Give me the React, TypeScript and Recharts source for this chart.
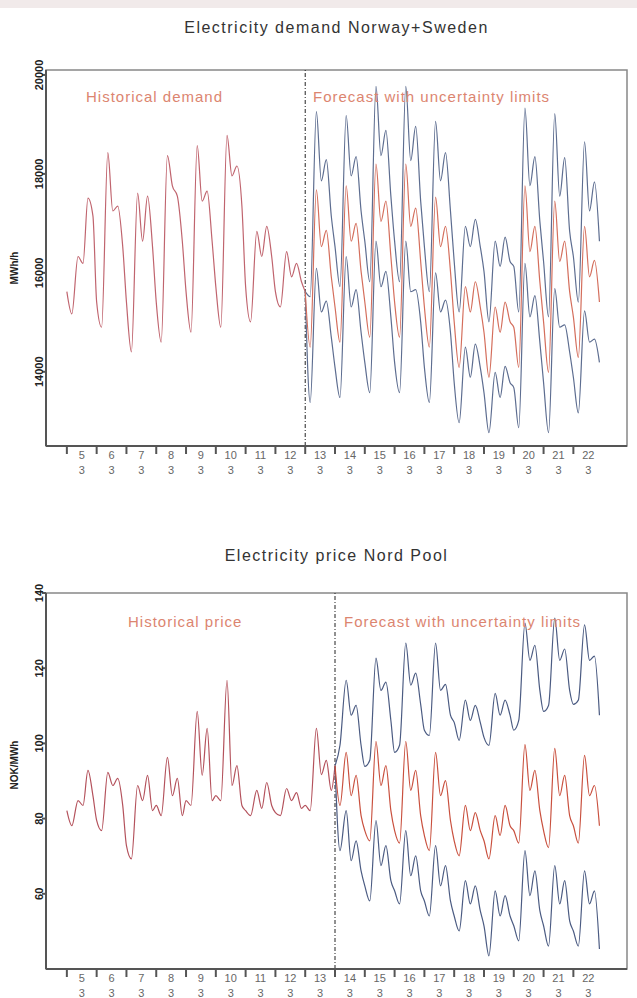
import { LineChart, Line, XAxis, YAxis, ReferenceLine, ReferenceArea } from "recharts";

// six readings per day, at these hours
const HOURS = [0, 4, 9, 13, 17, 21];
const DAYS = [5, 6, 7, 8, 9, 10, 11, 12, 13, 14, 15, 16, 17, 18, 19, 20, 21, 22];
const MONTH = 3;

// demand, MWh/h — history from 5/3, last value is 13/3 00h
const demandHistory = [
  15620, 15170, 16330, 16190, 17510, 17150,
  15410, 14900, 18430, 17250, 17350, 16530,
  15410, 14400, 17610, 16640, 17550, 16530,
  15410, 14600, 18370, 17760, 17550, 16640,
  15620, 14800, 18570, 17450, 17650, 16640,
  15720, 14900, 18780, 17960, 18160, 17350,
  15720, 15010, 16840, 16330, 16940, 16330,
  15620, 15310, 16430, 15920, 16190, 15820,
  15620,
];
// forecast from 13/3
const demandForecast = [
  15620, 14500, 17680, 16530, 16860, 15920,
  15310, 14600, 17760, 16640, 17000, 16030,
  15410, 14700, 18200, 17040, 17450, 16330,
  15410, 14700, 18200, 16940, 17310, 16230,
  15310, 14500, 17530, 16530, 16940, 16030,
  15010, 14090, 15720, 15210, 15820, 15310,
  14800, 13890, 15310, 14800, 15410, 15010,
  14900, 14090, 17760, 16430, 16940, 15820,
  15010, 13990, 17450, 16230, 16640, 15620,
  15110, 14290, 16940, 15920, 16250, 15410,
];
const demandUpper = [
  15620, 15520, 19260, 17860, 18290, 17150,
  16530, 15720, 19180, 17960, 18350, 17250,
  16640, 15820, 19770, 18370, 18880, 17550,
  16640, 15820, 19770, 18270, 18960, 17450,
  16530, 15620, 19060, 17860, 18430, 17250,
  16230, 15210, 16940, 16530, 17080, 16530,
  16030, 15010, 16640, 16130, 16720, 16230,
  16130, 15210, 19330, 17760, 18350, 17040,
  16230, 15110, 19220, 17550, 18330, 16840,
  16330, 15410, 18650, 17250, 17840, 16640,
];
const demandLower = [
  15620, 13380, 16090, 15210, 15430, 14700,
  14090, 13480, 16330, 15310, 15660, 14800,
  14190, 13580, 16640, 15720, 16030, 15110,
  14190, 13580, 16640, 15620, 15660, 15010,
  14090, 13380, 16000, 15210, 15450, 14800,
  13780, 12970, 14500, 13890, 14560, 14090,
  13580, 12770, 13990, 13480, 14110, 13780,
  13680, 12870, 16190, 15110, 15540, 14600,
  13780, 12770, 15680, 14900, 14950, 14400,
  13890, 13170, 15230, 14600, 14660, 14190,
];
const demandTicks = [14000, 16000, 18000, 20000];

// price, NOK/MWh — history from 5/3, last value is 14/3 00h
const priceHistory = [
  82.1, 78.1, 84.8, 83.5, 92.8, 86.1,
  79.5, 76.8, 92.3, 88.8, 90.7, 83.5,
  72.8, 69.3, 88.8, 84.8, 91.5, 82.1,
  83.5, 80.8, 96.3, 86.1, 90.7, 80.8,
  84.8, 83.5, 108.5, 91.5, 104.0, 84.8,
  86.1, 84.8, 116.8, 88.8, 94.1, 83.5,
  82.1, 80.8, 87.5, 82.7, 89.6, 83.5,
  81.6, 80.8, 88.0, 84.8, 86.9, 82.7,
  83.5, 82.1, 104.0, 91.7, 95.5, 87.5,
  94.1,
];
// forecast from 14/3
const priceForecast = [
  94.1, 83.5, 97.6, 86.1, 91.5, 80.8,
  76.8, 74.1, 100.5, 88.8, 94.1, 82.1,
  76.8, 73.5, 100.5, 87.5, 92.8, 80.8,
  75.5, 71.5, 97.6, 86.1, 90.1, 79.5,
  74.1, 70.1, 83.5, 76.8, 81.6, 76.8,
  74.1, 69.3, 80.8, 75.5, 83.5, 78.1,
  76.8, 73.5, 99.7, 87.5, 92.8, 82.1,
  76.8, 72.3, 98.7, 86.1, 91.5, 80.8,
  78.1, 73.5, 96.8, 86.1, 88.8, 78.1,
];
const priceUpper = [
  94.1, 99.5, 116.8, 107.5, 110.1, 99.5,
  93.9, 95.5, 122.7, 114.1, 116.3, 106.1,
  97.6, 99.5, 126.7, 115.5, 118.7, 110.4,
  103.5, 102.1, 126.7, 114.1, 115.7, 107.5,
  105.6, 100.8, 111.5, 106.1, 110.1, 105.6,
  101.6, 99.5, 113.3, 107.5, 111.5, 107.5,
  103.5, 106.1, 132.0, 122.1, 126.1, 114.1,
  108.5, 110.1, 133.3, 122.1, 125.1, 114.1,
  110.4, 111.5, 131.5, 122.1, 123.2, 107.5,
];
const priceLower = [
  94.1, 71.5, 82.1, 68.8, 74.1, 66.1,
  62.1, 58.1, 79.5, 67.5, 72.8, 63.5,
  60.8, 57.3, 76.8, 64.8, 70.1, 60.8,
  58.1, 54.1, 72.8, 62.1, 67.5, 58.1,
  54.1, 50.1, 63.5, 57.3, 62.1, 55.5,
  51.5, 43.5, 60.8, 54.1, 59.5, 54.1,
  51.5, 47.5, 71.5, 59.5, 66.1, 55.5,
  51.5, 46.1, 67.5, 57.3, 63.5, 52.8,
  50.1, 46.1, 66.1, 57.3, 60.8, 45.3,
];
const priceTicks = [60, 80, 100, 120, 140];

const X_MIN = 4.3;
const X_MAX = 23.8;
const W = 637;
const LEFT = 46;
const RIGHT = 10;
const Y_AXIS_W = 20;
const PX_PER_DAY = (W - LEFT - RIGHT) / (X_MAX - X_MIN);

const FONT = '"Liberation Sans", Arial, sans-serif';

const toSeries = (firstDay: number, values: number[]) =>
  values.map((v, i) => ({
    t: firstDay + Math.floor(i / HOURS.length) + HOURS[i % HOURS.length] / 24,
    v,
  }));

function DayTick({ x, y, payload }: any) {
  const cx = x + PX_PER_DAY / 2;
  return (
    <g>
      <text x={cx} y={y + 5} textAnchor="middle" fontFamily={FONT} fontSize={11} fill="#666">{payload.value}</text>
      <text x={cx} y={y + 20} textAnchor="middle" fontFamily={FONT} fontSize={11} fill="#666">{MONTH}</text>
    </g>
  );
}

function ValueTick({ x, y, payload }: any) {
  const tx = x + 1;
  return (
    <text
      x={tx}
      y={y}
      transform={`rotate(-90 ${tx} ${y})`}
      textAnchor="middle"
      fontFamily={FONT}
      fontSize={11}
      fontWeight="bold"
      fill="#222"
    >
      {payload.value}
    </text>
  );
}

interface PanelProps {
  top: number;
  height: number;
  plotTop: number;
  plotBottom: number;
  domain: [number, number];
  ticks: number[];
  splitDay: number;
  history: number[];
  forecast: number[];
  upper: number[];
  lower: number[];
  histColor: string;
  foreColor: string;
  bandColor: string;
}

function Panel(p: PanelProps) {
  const xAxisH = 30;
  const line = { dataKey: "v", type: "monotone" as const, strokeWidth: 1.2, dot: false, isAnimationActive: false };
  return (
    <div style={{ position: "absolute", left: 0, top: p.top }}>
      <LineChart
        width={W}
        height={p.height}
        margin={{ top: p.plotTop, right: RIGHT, left: LEFT - Y_AXIS_W, bottom: p.height - p.plotBottom - xAxisH }}
        style={{ overflow: "visible" }}
      >
        <XAxis
          dataKey="t"
          type="number"
          domain={[X_MIN, X_MAX]}
          ticks={DAYS}
          interval={0}
          height={xAxisH}
          tickSize={8}
          tickMargin={0}
          tick={<DayTick />}
          stroke="#555"
          strokeWidth={2}
          allowDataOverflow
        />
        <YAxis
          type="number"
          domain={p.domain}
          ticks={p.ticks}
          interval={0}
          width={Y_AXIS_W}
          tickSize={4}
          tickMargin={0}
          tick={<ValueTick />}
          stroke="#555"
          strokeWidth={2}
          allowDataOverflow
        />
        <ReferenceArea
          x1={X_MIN}
          x2={X_MAX}
          y1={p.domain[0]}
          y2={p.domain[1]}
          fill="none"
          stroke="#888"
          strokeWidth={1.5}
        />
        <ReferenceLine x={p.splitDay} stroke="#222" strokeDasharray="4 2 1 2" strokeWidth={1} />
        <Line {...line} data={toSeries(5, p.history)} stroke={p.histColor} />
        <Line {...line} data={toSeries(p.splitDay, p.upper)} stroke={p.bandColor} />
        <Line {...line} data={toSeries(p.splitDay, p.lower)} stroke={p.bandColor} />
        <Line {...line} data={toSeries(p.splitDay, p.forecast)} stroke={p.foreColor} />
      </LineChart>
    </div>
  );
}

const titleStyle: React.CSSProperties = {
  position: "absolute",
  left: LEFT,
  width: W - LEFT - RIGHT,
  textAlign: "center",
  fontFamily: FONT,
  fontSize: 16,
  letterSpacing: 1.5,
  color: "#333",
};

const noteStyle: React.CSSProperties = {
  position: "absolute",
  fontFamily: FONT,
  fontSize: 15,
  letterSpacing: 1,
  color: "#dc8570",
  whiteSpace: "nowrap",
};

const unitStyle: React.CSSProperties = {
  position: "absolute",
  fontFamily: FONT,
  fontSize: 10,
  fontWeight: "bold",
  color: "#222",
  transform: "translate(-50%, -50%) rotate(-90deg)",
  whiteSpace: "nowrap",
};

export default function App() {
  return (
    <div style={{ position: "absolute", left: 0, top: 0, width: W, height: 998, background: "#fff", overflow: "hidden" }}>
      <div style={{ position: "absolute", left: 0, top: 0, width: W, height: 8, background: "#f1eaea" }} />

      <div style={{ ...titleStyle, top: 19 }}>Electricity demand Norway+Sweden</div>
      <div style={{ ...unitStyle, left: 14, top: 268 }}>MWh/h</div>
      <Panel
        top={0}
        height={500}
        plotTop={70}
        plotBottom={446}
        domain={[12500, 20100]}
        ticks={demandTicks}
        splitDay={13}
        history={demandHistory}
        forecast={demandForecast}
        upper={demandUpper}
        lower={demandLower}
        histColor="#c0646e"
        foreColor="#d46e5c"
        bandColor="#5d6d90"
      />
      <div style={{ ...noteStyle, left: 86, top: 88 }}>Historical demand</div>
      <div style={{ ...noteStyle, left: 313, top: 88 }}>Forecast with uncertainty limits</div>

      <div style={{ ...titleStyle, top: 547 }}>Electricity price Nord Pool</div>
      <div style={{ ...unitStyle, left: 14, top: 765 }}>NOK/MWh</div>
      <Panel
        top={520}
        height={478}
        plotTop={73}
        plotBottom={449}
        domain={[40, 140]}
        ticks={priceTicks}
        splitDay={14}
        history={priceHistory}
        forecast={priceForecast}
        upper={priceUpper}
        lower={priceLower}
        histColor="#b4525c"
        foreColor="#c9503e"
        bandColor="#4b5b82"
      />
      <div style={{ ...noteStyle, left: 128, top: 613 }}>Historical price</div>
      <div style={{ ...noteStyle, left: 344, top: 613 }}>Forecast with uncertainty limits</div>
    </div>
  );
}
